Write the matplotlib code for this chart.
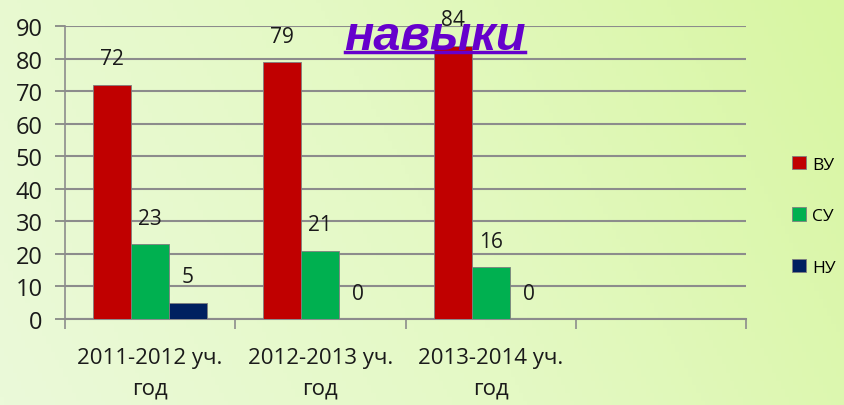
import numpy as np
import matplotlib.pyplot as plt
from matplotlib.colors import LinearSegmentedColormap
from matplotlib.lines import Line2D

# данные
categories = ["2011-2012 уч.\nгод", "2012-2013 уч.\nгод", "2013-2014 уч.\nгод", ""]
vu = [72, 79, 84, None]
su = [23, 21, 16, None]
nu = [5, 0, 0, None]
series_names = ["ВУ", "СУ", "НУ"]
colors = ["#C00000", "#00B050", "#002060"]

plt.rcParams['font.family'] = ['Open Sans', 'DejaVu Sans']

fig = plt.figure(figsize=(8.44, 4.06), dpi=100)

# фон-градиент
bg = fig.add_axes([0, 0, 1, 1], zorder=-10)
cmap = LinearSegmentedColormap.from_list("bg", ["#EBFAD9", "#E4F9C4", "#D8F6A2"])
xx, yy = np.meshgrid(np.linspace(0, 1, 200), np.linspace(0, 1, 100))
bg.imshow(0.8 * xx + 0.2 * (1 - yy), cmap=cmap, aspect="auto", extent=[0, 1, 0, 1])
bg.axis("off")

ax = fig.add_axes([0.077, 0.2118, 0.807, 0.7217])
ax.patch.set_alpha(0)

x = np.arange(len(categories))
w = 0.223
for i, (vals, name, c) in enumerate(zip([vu, su, nu], series_names, colors)):
    xs = [xi + (i - 1) * w for xi, v in zip(x, vals) if v is not None]
    vs = [v for v in vals if v is not None]
    ax.bar(xs, vs, width=w, color=c, edgecolor="#7F7F7F", linewidth=0.6,
           label=name, zorder=3)
    for xb, v in zip(xs, vs):
        ax.annotate(str(v), (xb, v), xytext=(0, 11), textcoords="offset points",
                    ha="center", va="bottom", fontsize=15, color="#1a1a1a", zorder=6)

ax.set_xlim(-0.5, 3.5)
ax.set_ylim(0, 90)
ax.set_yticks(range(0, 91, 10))
ax.tick_params(axis="y", labelsize=17, length=7, color="#7F7F7F", width=1.2,
               labelcolor="#1a1a1a", pad=9)
ax.grid(axis="y", color="#8C8C8C", linewidth=1.5, zorder=1)
ax.set_xticks(x)
ax.set_xticklabels(categories, fontsize=16, color="#1a1a1a", linespacing=1.6)
ax.tick_params(axis="x", which="major", length=0, pad=20)
ax.set_xticks(np.arange(-0.5, 4, 1), minor=True)
ax.tick_params(axis="x", which="minor", length=7, color="#8C8C8C", width=1.2)
for s in ["top", "right"]:
    ax.spines[s].set_visible(False)
ax.spines["left"].set_color("#8C8C8C")
ax.spines["left"].set_linewidth(1.2)
ax.spines["bottom"].set_color("#8C8C8C")
ax.spines["bottom"].set_linewidth(1.5)

fig.legend(loc="center left", bbox_to_anchor=(0.92, 0.466), frameon=False,
           fontsize=12.5, handlelength=0.8, handleheight=0.8, handletextpad=0.35,
           labelspacing=2.0)

# заголовок
fig.text(0.515, 0.877, "навыки", fontsize=35, fontweight="bold", fontstyle="italic",
         family="Liberation Sans", color="#6600CC", ha="center", va="baseline", zorder=5)
fig.add_artist(Line2D([345 / 844, 525 / 844], [1 - 53 / 406, 1 - 53 / 406],
                      color="#6600CC", linewidth=2.5, zorder=5))

fig.savefig("out.png", dpi=100)
